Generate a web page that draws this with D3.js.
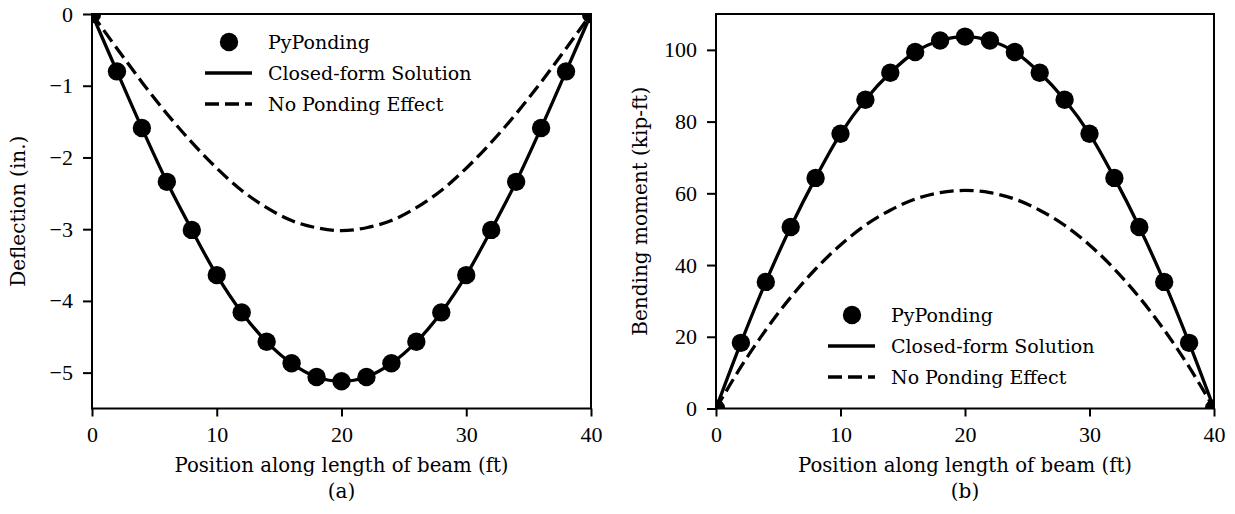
<!DOCTYPE html>
<html><head><meta charset="utf-8">
<script src="https://cdn.jsdelivr.net/npm/d3@7"></script>
<style>
body{margin:0;background:#fff;}
svg text{font-family:"DejaVu Serif",serif;fill:#000;}
</style></head>
<body><svg id="c" width="1235" height="514"></svg>
<script>
// Positions (ft)
const positions = [0,2,4,6,8,10,12,14,16,18,20,22,24,26,28,30,32,34,36,38,40];
// Deflection (in.) with ponding (PyPonding / closed form)
const deflPonding = [0,-0.80,-1.59,-2.34,-3.01,-3.64,-4.16,-4.57,-4.87,-5.06,-5.12,-5.06,-4.87,-4.57,-4.16,-3.64,-3.01,-2.34,-1.59,-0.80,0];
// Deflection (in.) without ponding
const deflNoPonding = [0,-0.48,-0.95,-1.39,-1.79,-2.15,-2.46,-2.70,-2.88,-2.98,-3.02,-2.98,-2.88,-2.70,-2.46,-2.15,-1.79,-1.39,-0.95,-0.48,0];
// Bending moment (kip-ft) with ponding
const momPonding = [0,18.3,35.3,50.6,64.3,76.6,86.1,93.6,99.4,102.6,103.7,102.6,99.4,93.6,86.1,76.6,64.3,50.6,35.3,18.3,0];
// Bending moment (kip-ft) without ponding
const momNoPonding = [0,11.6,21.9,31.0,38.9,45.6,51.1,55.3,58.4,60.2,60.8,60.2,58.4,55.3,51.1,45.6,38.9,31.0,21.9,11.6,0];
const xTicks = [0,10,20,30,40];
const yTicksA = [0,-1,-2,-3,-4,-5];
const yTicksB = [0,20,40,60,80,100];
const legendLabels = ["PyPonding","Closed-form Solution","No Ponding Effect"];

const svg = d3.select("#c");
const fmt = d => d < 0 ? "\u2212" + Math.abs(d) : String(d);
const DASH = "14,6";
const LW = 3.3;

function panel(o){
  const x = d3.scaleLinear().domain([0,40]).range([o.x0,o.x1]);
  const y = d3.scaleLinear().domain(o.ydom).range([o.y1,o.y0]);
  const g = svg.append("g");
  const cid = "clip"+o.id;
  svg.append("clipPath").attr("id",cid).append("rect")
    .attr("x",o.x0).attr("y",o.y0).attr("width",o.x1-o.x0).attr("height",o.y1-o.y0);
  const plot = g.append("g").attr("clip-path",`url(#${cid})`);
  const dataP = positions.map((p,i)=>[p,o.withP[i]]);
  const dataN = positions.map((p,i)=>[p,o.noP[i]]);
  const line = d3.line().x(d=>x(d[0])).y(d=>y(d[1])).curve(d3.curveCatmullRom);
  plot.append("path").datum(dataN).attr("d",line).attr("fill","none")
    .attr("stroke","#000").attr("stroke-width",LW).attr("stroke-dasharray",DASH);
  plot.append("path").datum(dataP).attr("d",line).attr("fill","none")
    .attr("stroke","#000").attr("stroke-width",LW);
  plot.selectAll("circle").data(dataP).enter().append("circle")
    .attr("cx",d=>x(d[0])).attr("cy",d=>y(d[1])).attr("r",9.2).attr("fill","#000");
  // axes
  const ax = g.append("g").attr("transform",`translate(0,${o.y1})`)
    .call(d3.axisBottom(x).tickValues(xTicks).tickSize(8).tickPadding(10).tickFormat(fmt));
  const ay = g.append("g").attr("transform",`translate(${o.x0},0)`)
    .call(d3.axisLeft(y).tickValues(o.yticks).tickSize(9).tickPadding(10).tickFormat(fmt));
  [ax,ay].forEach(a=>{
    a.attr("font-family",null).attr("font-size",null);
    a.select(".domain").remove();
    a.selectAll(".tick line").attr("stroke","#000").attr("stroke-width",2);
    a.selectAll(".tick text").style("font-family","'Liberation Serif', serif")
      .style("font-size","22px").attr("fill","#000");
  });
  g.append("rect").attr("x",o.x0).attr("y",o.y0).attr("width",o.x1-o.x0).attr("height",o.y1-o.y0)
    .attr("fill","none").attr("stroke","#000").attr("stroke-width",2);
  const cx = (o.x0+o.x1)/2;
  g.append("text").attr("x",cx).attr("y",472).attr("text-anchor","middle")
    .attr("font-size",19.7).text("Position along length of beam (ft)");
  g.append("text").attr("x",cx).attr("y",498).attr("text-anchor","middle")
    .attr("font-size",20).text(o.tag);
  g.append("text").attr("transform",`translate(${o.ylx},${(o.y0+o.y1)/2}) rotate(-90)`)
    .attr("text-anchor","middle").attr("font-size",20).text(o.ylabel);
  // legend
  const lg = g.append("g");
  legendLabels.forEach((t,i)=>{
    const yy = o.ly + i*31;
    if(i===0) lg.append("circle").attr("cx",o.lx+24).attr("cy",yy).attr("r",9.2).attr("fill","#000");
    else lg.append("line").attr("x1",o.lx).attr("x2",o.lx+47).attr("y1",yy).attr("y2",yy)
      .attr("stroke","#000").attr("stroke-width",LW).attr("stroke-dasharray",i===2?DASH:null);
    lg.append("text").attr("x",o.lx+63).attr("y",yy+6.5).attr("font-size",19).text(t);
  });
}
panel({id:"a",x0:92,x1:591,y0:14,y1:408.5,ydom:[-5.5,0],withP:deflPonding,noP:deflNoPonding,
  yticks:yTicksA,tag:"(a)",ylabel:"Deflection (in.)",ylx:25,lx:205,ly:42});
panel({id:"b",x0:716,x1:1214,y0:14,y1:408.5,ydom:[0,110],withP:momPonding,noP:momNoPonding,
  yticks:yTicksB,tag:"(b)",ylabel:"Bending moment (kip-ft)",ylx:647,lx:828,ly:315});
</script></body></html>
